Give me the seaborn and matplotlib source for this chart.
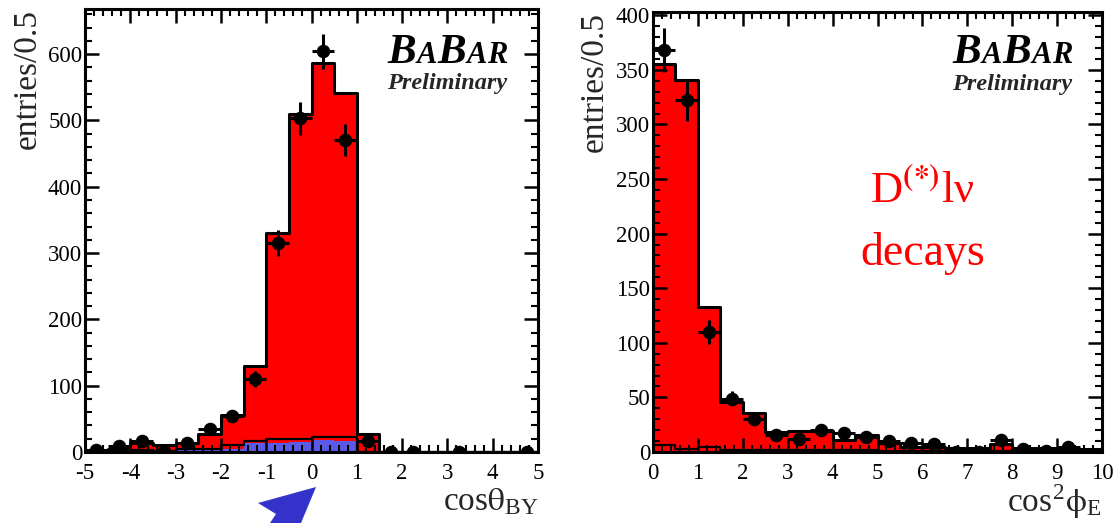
import numpy as np
import pandas as pd
import seaborn as sns
import matplotlib
matplotlib.use("Agg")
import matplotlib.pyplot as plt
from matplotlib.ticker import MultipleLocator
from matplotlib.patches import Polygon
import matplotlib.transforms as mtransforms

# ---------------- data ----------------
# left panel: cos(theta_BY), bins of 0.5 from -5 to 5
left_edges = [-5.0, -4.5, -4.0, -3.5, -3.0, -2.5, -2.0, -1.5, -1.0, -0.5, 0.0,
              0.5, 1.0, 1.5, 2.0, 2.5, 3.0, 3.5, 4.0, 4.5, 5.0]
left_total = [3, 4, 14, 10, 13, 27, 56, 130, 330, 509, 586, 541, 27, 0, 0, 0, 0, 0, 0, 0]
left_bkg_fill = [0, 0, 3, 0, 4, 4, 5, 13, 14, 15, 18, 16, 0, 0, 0, 0, 0, 0, 0, 0]
left_bkg_line = [0, 0, 3, 0, 4, 4, 10, 16, 19, 20, 23, 22, 0, 0, 0, 0, 0, 0, 0, 0]
left_data = [3.5, 8.5, 16, 1, 13.5, 34, 54, 110, 315, 503, 604, 470, 17, 0, 0, np.nan, 0, np.nan, np.nan, 0]
left_err = [2, 3, 4, 1, 4, 6, 8, 12, 20, 25, 27, 24, 5, 0, 0, np.nan, 0, np.nan, np.nan, 0]

# right panel: cos^2(phi_E), bins of 0.5 from 0 to 10
right_edges = [0.0, 0.5, 1.0, 1.5, 2.0, 2.5, 3.0, 3.5, 4.0, 4.5, 5.0,
               5.5, 6.0, 6.5, 7.0, 7.5, 8.0, 8.5, 9.0, 9.5, 10.0]
right_total = [355, 341, 133, 46, 36, 18, 19, 19, 11, 16, 8, 5, 5, 4, 4, 7, 4, 4, 3, 3]
right_bkg_line = [6, 3, 5, 2, 2, 2, 2, 2, 2, 2, 1, 1, 1, 1, 1, 1, 1, 1, 1, 1]
right_data = [368, 322, 110, 49, 30, 16, 12, 20, 17, 14, 10, 8, 7, 0, 0, 11, 3, 1, 5, np.nan]
right_err = [20, 19, 11, 7, 6, 4, 4, 5, 4, 4, 3, 3, 3, 3, 3, 3.5, 2, 1, 2.5, np.nan]

# ---------------- style ----------------
sns.set_theme(style="ticks")
plt.rcParams["font.family"] = ["Liberation Serif", "DejaVu Serif"]
plt.rcParams["mathtext.fontset"] = "stix"
plt.rcParams["axes.unicode_minus"] = False

W, H = 1113, 523
fig = plt.figure(figsize=(W / 100, H / 100), dpi=100)
ax1 = fig.add_axes([85 / W, 71 / H, 453 / W, 443 / H])
ax2 = fig.add_axes([653 / W, 71 / H, 449 / W, 440 / H])

RED = "#ff0000"
BLUE = "#5a5ae6"


def centers(edges):
    e = np.asarray(edges, dtype=float)
    return 0.5 * (e[:-1] + e[1:])


def draw_panel(ax, edges, total, data, err, bkg_fill=None, bkg_line=None):
    c = centers(edges)
    df = pd.DataFrame({"x": c, "total": total})
    sns.histplot(data=df, x="x", weights="total", bins=list(edges), element="step",
                 fill=True, facecolor=RED, edgecolor="black", linewidth=2.2,
                 alpha=1, ax=ax, zorder=1)
    if bkg_fill is not None:
        dfb = pd.DataFrame({"x": c, "w": bkg_fill})
        sns.histplot(data=dfb, x="x", weights="w", bins=list(edges), element="step",
                     fill=True, facecolor=BLUE, edgecolor="none", linewidth=0,
                     alpha=1, ax=ax, zorder=1.2)
    if bkg_line is not None:
        dfl = pd.DataFrame({"x": c, "w": bkg_line})
        sns.histplot(data=dfl, x="x", weights="w", bins=list(edges), element="step",
                     fill=False, color="black", linewidth=1.6, ax=ax, zorder=1.3)
    ax.errorbar(c, data, yerr=err, xerr=0.25, fmt="none", ecolor="black",
                elinewidth=2.2, capsize=0, zorder=4)
    sns.scatterplot(x=c, y=data, color="black", s=95, edgecolor="black",
                    linewidth=0, ax=ax, zorder=5)
    ax.set_xlabel("")
    ax.set_ylabel("")


draw_panel(ax1, left_edges, left_total, left_data, left_err, left_bkg_fill, left_bkg_line)
draw_panel(ax2, right_edges, right_total, right_data, right_err, None, right_bkg_line)

ax1.set_xlim(-5, 5)
ax1.set_ylim(0, 668)
ax2.set_xlim(0, 10)
ax2.set_ylim(0, 403)

ax1.xaxis.set_major_locator(MultipleLocator(1))
ax1.xaxis.set_minor_locator(MultipleLocator(0.2))
ax1.yaxis.set_major_locator(MultipleLocator(100))
ax1.yaxis.set_minor_locator(MultipleLocator(20))
ax2.xaxis.set_major_locator(MultipleLocator(1))
ax2.xaxis.set_minor_locator(MultipleLocator(0.2))
ax2.yaxis.set_major_locator(MultipleLocator(50))
ax2.yaxis.set_minor_locator(MultipleLocator(10))

for ax in (ax1, ax2):
    ax.set_axisbelow(False)
    for s in ax.spines.values():
        s.set_linewidth(2.2)
        s.set_color("black")
        s.set_zorder(6)
    ax.tick_params(which="both", direction="in", top=True, right=True,
                   bottom=True, left=True, labeltop=False, labelright=False,
                   colors="black")
    ax.tick_params(which="major", length=10, width=1.8, labelsize=16.5)
    ax.tick_params(axis="y", which="major", pad=2)
    ax.tick_params(axis="x", which="major", pad=8)
    ax.tick_params(which="minor", length=5, width=1.5)
    ax.set_ylabel("entries/0.5", fontsize=24, loc="top", va="baseline")

ax1.yaxis.set_label_coords(-0.108, 1.0)
ax2.yaxis.set_label_coords(-0.112, 1.0)

ax1.set_xlabel(r"cos$\mathrm{\theta}_{\mathregular{BY}}$", fontsize=24, loc="right", va="baseline")
ax1.xaxis.set_label_coords(1.0, -0.131)
ax2.set_xlabel(r"cos$^{\mathregular{2}}\mathrm{\phi}_{\mathregular{E}}$", fontsize=24, loc="right", va="baseline")
ax2.xaxis.set_label_coords(1.0, -0.136)

renderer = fig.canvas.get_renderer()
ident = mtransforms.IdentityTransform()


def logo(ax, x0, yb, yp):
    # BABAR logo laid out letter by letter in display pixels
    px, py = ax.transAxes.transform((x0, yb))
    letters = [("B", 31), ("A", 22), ("B", 31), ("A", 22), ("R", 22)]
    for t, fs in letters:
        txt = fig.text(px, py, t, transform=ident, fontsize=fs, fontstyle="italic",
                       fontweight="bold", ha="left", va="baseline", color="black", zorder=7)
        bb = txt.get_window_extent(renderer)
        px = bb.x1 + 0.5
    ax.text(x0, yp, "Preliminary", transform=ax.transAxes, fontsize=17.5,
            fontstyle="italic", fontweight="bold", ha="left", va="baseline", zorder=7)


logo(ax1, 0.667, 0.878, 0.82)
logo(ax2, 0.666, 0.884, 0.823)

ax2.text(0.6, 0.595, "D$^{\\mathbf{(*)}}$lν", transform=ax2.transAxes, color="red",
         fontsize=32, ha="center", va="center")
ax2.text(0.6, 0.452, "decays", transform=ax2.transAxes, color="red",
         fontsize=33, ha="center", va="center")

# blue arrow marker below the left panel
arrow_px = [(316, 487), (258, 503), (276, 514), (270, 523), (301, 523)]
arrow = Polygon([(x / W, 1 - y / H) for x, y in arrow_px], closed=True,
                transform=fig.transFigure, facecolor="#3333cc", edgecolor="none")
fig.patches.append(arrow)

fig.savefig("out.png", dpi=100)
